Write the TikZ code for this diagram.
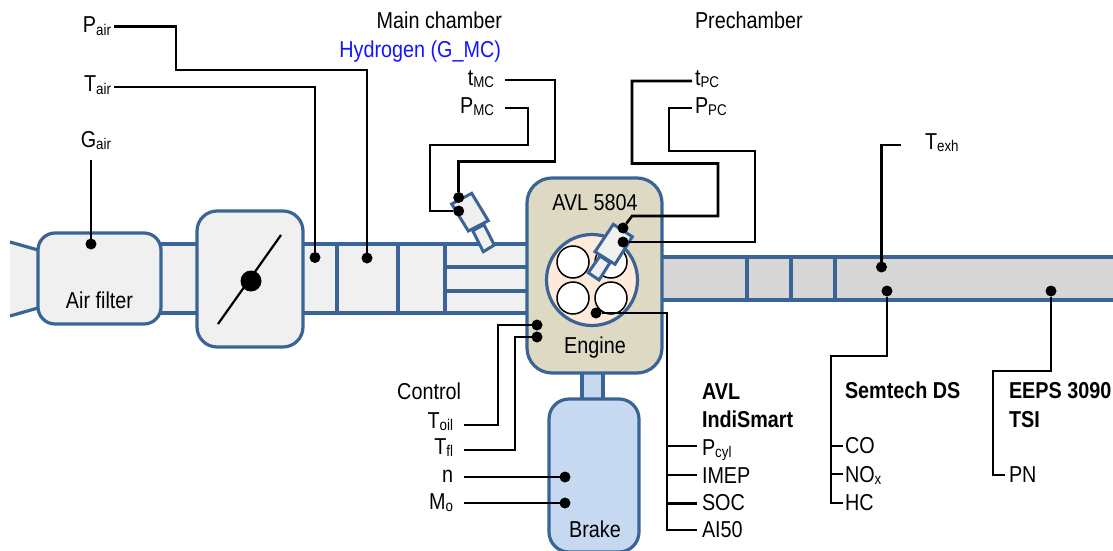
\documentclass[tikz,border=0pt]{standalone}
\usepackage{fontspec}
\setmainfont[FakeStretch=0.86]{Liberation Sans}
\definecolor{pipeblue}{HTML}{3A6496}
\definecolor{intake}{HTML}{F0F0F0}
\definecolor{exhaust}{HTML}{D6D6D6}
\definecolor{engine}{HTML}{DDD9C3}
\definecolor{bore}{HTML}{FDEADA}
\definecolor{brake}{HTML}{C6D9F1}
\definecolor{hyd}{HTML}{1414FF}
\newcommand{\sbt}[2]{#1{\fontsize{15.5}{15}\selectfont\raisebox{-2.5pt}{#2}}}
\tikzset{
  x=1pt,y=-1pt,
  pipeline/.style={draw=pipeblue,line width=3.2pt},
  blockbox/.style={pipeline,rounded corners=#1,inner sep=0pt,outer sep=0pt,font={}},
  sig/.style={draw=black,line width=2.6pt,line join=miter},
  thinsig/.style={draw=black,line width=2.2pt,line join=miter},
  sdot/.style={circle,fill=black,inner sep=0pt,outer sep=0pt,minimum size=11pt},
  txt/.style={font=\fontsize{23}{23}\selectfont,inner sep=0pt,outer sep=0pt,text=black},
  lbl/.style={txt,anchor=base west},
  rbl/.style={txt,anchor=base east},
  cbl/.style={txt,anchor=base},
  bold/.style={txt,anchor=base west,font=\fontsize{23}{23}\selectfont\bfseries},
}
\begin{document}
\begin{tikzpicture}
\useasboundingbox (0,0) rectangle (1113,551);
% intake
\fill[intake] (10,242) -- (38,250) -- (38,308) -- (10,316) -- cycle;
\draw[pipeline] (10,242) -- (38,250);
\draw[pipeline] (10,316) -- (38,308);
\fill[intake] (161,244) rectangle (527,313);
\draw[pipeline] (161,244) -- (527,244);
\draw[pipeline] (161,313) -- (527,313);
\draw[pipeline] (337,244) -- (337,313);
\draw[pipeline] (398,244) -- (398,313);
\draw[pipeline] (445,244) -- (445,313);
\draw[pipeline] (445,267) -- (527,267);
\draw[pipeline] (445,291) -- (527,291);
% exhaust
\fill[exhaust] (662,257) rectangle (1113,300);
\draw[pipeline] (662,257) -- (1113,257);
\draw[pipeline] (662,300) -- (1113,300);
\draw[pipeline] (747,257) -- (747,300);
\draw[pipeline] (791,257) -- (791,300);
\draw[pipeline] (835,257) -- (835,300);
% boxes
\node[blockbox=17pt,fill=intake,minimum width=123pt,minimum height=91pt] (filter) at (99.5,278.5) {};
\node[blockbox=20pt,fill=intake,minimum width=106pt,minimum height=136pt] (throttle) at (250,279) {};
\draw[thinsig] (218,324) -- (281,235);
\node[circle,fill=black,inner sep=0pt,minimum size=21pt] (tdisc) at (251,281) {};
% shaft and brake
\node[pipeline,fill=brake,inner sep=0pt,outer sep=0pt,minimum width=21pt,minimum height=30pt] (shaft) at (592.5,386) {};
\node[blockbox=20pt,fill=brake,minimum width=90pt,minimum height=153pt] (brakebox) at (594,475.5) {};
% engine
\node[blockbox=25pt,fill=engine,minimum width=135pt,minimum height=195pt] (enginebox) at (594.5,275.5) {};
\node[circle,pipeline,fill=bore,inner sep=0pt,outer sep=0pt,minimum size=91pt] (bore) at (592,280) {};
\foreach \nm/\px/\py in {v1/573/262,v2/611/262,v3/573/298,v4/611/298}
  \node[circle,draw=black,line width=1.5pt,fill=white,inner sep=0pt,minimum size=32pt] (\nm) at (\px,\py) {};
% MC injector
\draw[pipeline,fill=intake,line width=3pt] (472.7,230.7) -- (484,224.7) -- (494.3,245) -- (483.3,251.7) -- cycle;
\draw[pipeline,fill=intake,line width=3pt] (451.7,204) -- (471.7,193.3) -- (488.3,220.7) -- (468.3,231) -- cycle;
% PC injector
\draw[pipeline,fill=intake,line width=3pt] (600,256) -- (610,262.7) -- (599,280) -- (588.3,272.7) -- cycle;
\draw[pipeline,fill=intake,line width=3pt] (613.3,224.3) -- (632.3,236.7) -- (615,264.3) -- (595,251.7) -- cycle;
% dots
\foreach \nm/\px/\py in {dGair/91/244,dTair/315/257.5,dPair/367/258,dtMC/458.7/197.5,dPMC/458.7/211,dtPC/623/228,dPPC/623/242,dTexh/881.5/267,dSem/887/291,dEEPS/1051/291,dIndi/596/313,dToil/537/325,dTfl/537/337,dn/565/477,dMo/565/503}
  \node[sdot] (\nm) at (\px,\py) {};
% free ends
\coordinate (ePair) at (114,26.5);
\coordinate (eTair) at (114,87);
\coordinate (eGair) at (91,160);
\coordinate (etMC) at (505,80);
\coordinate (ePMC) at (505,108);
\coordinate (etPC) at (692,81);
\coordinate (ePPC) at (692,108);
\coordinate (eTexh) at (901,145);
\coordinate (eToil) at (464,425);
\coordinate (eTfl) at (464,450);
\coordinate (en) at (464,477);
\coordinate (eMo) at (464,503);
\coordinate (eAI) at (697,530);
\coordinate (ePcyl) at (697,446);
\coordinate (eIMEP) at (697,475);
\coordinate (eSOC) at (697,503.5);
\coordinate (eCO) at (843,446);
\coordinate (eNOx) at (843,474);
\coordinate (eHC) at (843,503);
\coordinate (ePN) at (1005,475);
% connectors
\draw[sig] (ePair) -- (176,26.5) -- (176,70) -- (367,70) -- (dPair);
\draw[sig] (eTair) -- (315,87) -- (dTair);
\draw[sig] (eGair) -- (dGair);
\draw[sig] (etMC) -- (555,80) -- (555,161.5) -- (458.7,161.5) -- (dtMC);
\draw[sig] (ePMC) -- (528,108) -- (528,145) -- (430,145) -- (430,211) -- (dPMC);
\draw[sig] (etPC) -- (632,81) -- (632,163.5) -- (718,163.5) -- (718,216) -- (632,216) -- (dtPC);
\draw[sig] (ePPC) -- (669,108) -- (669,151) -- (755,151) -- (755,242) -- (dPPC);
\draw[sig] (eTexh) -- (881.5,145) -- (dTexh);
\draw[sig] (dToil) -- (498,325) -- (498,425) -- (eToil);
\draw[sig] (dTfl) -- (515,337) -- (515,450) -- (eTfl);
\draw[sig] (en) -- (dn);
\draw[sig] (eMo) -- (dMo);
\draw[sig] (dIndi) -- (667,313) -- (667,530) -- (eAI);
\draw[thinsig] (667,446) -- (ePcyl);
\draw[thinsig] (667,475) -- (eIMEP);
\draw[thinsig] (667,503.5) -- (eSOC);
\draw[sig] (dSem) -- (887,356) -- (831,356) -- (831,503) -- (eHC);
\draw[thinsig] (831,446) -- (eCO);
\draw[thinsig] (831,474) -- (eNOx);
\draw[sig] (dEEPS) -- (1051,371) -- (993,371) -- (993,475) -- (ePN);
% labels
\node[rbl] (lPair) at (111,33) {\sbt{P}{air}};
\node[rbl] (lTair) at (111,92) {\sbt{T}{air}};
\node[rbl] (lGair) at (111,147) {\sbt{G}{air}};
\node[rbl] (lMain) at (502,29) {Main chamber};
\node[rbl,text=hyd] (lHyd) at (501,57) {Hydrogen (G\_MC)};
\node[rbl] (ltMC) at (494,85) {\sbt{t}{MC}};
\node[rbl] (lPMC) at (494,113) {\sbt{P}{MC}};
\node[lbl] (lPre) at (695,29) {Prechamber};
\node[lbl] (ltPC) at (695,85) {\sbt{t}{PC}};
\node[lbl] (lPPC) at (695,113) {\sbt{P}{PC}};
\node[lbl] (lTexh) at (925,149) {\sbt{T}{exh}};
\node[cbl] (lFilter) at (99.5,308) {Air filter};
\node[cbl] (lAVL) at (595,210) {AVL 5804};
\node[cbl] (lEngine) at (595,353) {Engine};
\node[cbl] (lBrake) at (595,537) {Brake};
\node[rbl] (lCtl) at (461,399) {Control};
\node[rbl] (lToil) at (453,428) {\sbt{T}{oil}};
\node[rbl] (lTfl) at (453,454) {\sbt{T}{fl}};
\node[rbl] (ln) at (453,482) {n};
\node[rbl] (lMo) at (453,509) {\sbt{M}{o}};
\node[bold] (lI1) at (702,399) {AVL};
\node[bold] (lI2) at (702,427) {IndiSmart};
\node[lbl] (lPcyl) at (702,455) {\sbt{P}{cyl}};
\node[lbl] (lIMEP) at (702,483) {IMEP};
\node[lbl] (lSOC) at (702,510) {SOC};
\node[lbl] (lAI) at (702,537) {AI50};
\node[bold] (lSem) at (845,398) {Semtech DS};
\node[lbl] (lCO) at (845,453) {CO};
\node[lbl] (lNOx) at (845,482) {\sbt{NO}{x}};
\node[lbl] (lHC) at (845,510) {HC};
\node[bold] (lE1) at (1009,398) {EEPS 3090};
\node[bold] (lE2) at (1009,427) {TSI};
\node[lbl] (lPN) at (1009,482) {PN};
\end{tikzpicture}
\end{document}
